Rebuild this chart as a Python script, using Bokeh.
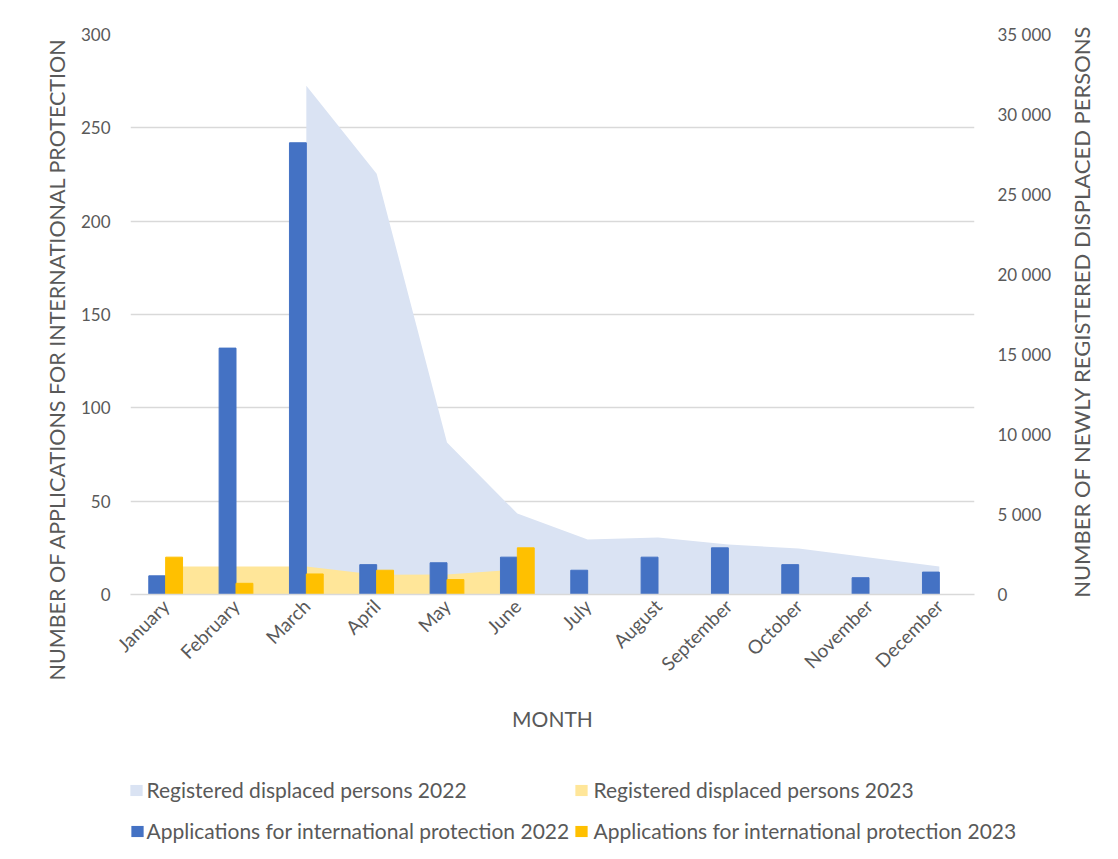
from math import pi
from bokeh.plotting import figure
from bokeh.models import (Range1d, LinearAxis, FactorRange, Title, Label,
                          CustomJSTickFormatter, SingleIntervalTicker, ColumnDataSource)
from bokeh.transform import dodge
from bokeh.embed import file_html
from bokeh.resources import INLINE

months = ["January", "February", "March", "April", "May", "June", "July",
          "August", "September", "October", "November", "December"]
apps_2022 = [10, 132, 242, 16, 17, 20, 13, 20, 25, 16, 9, 12]
months_2023 = months[:6]
apps_2023 = [20, 6, 11, 13, 8, 25]
reg_months_2022 = months[2:]
reg_2022 = [31800, 26300, 9500, 5060, 3440, 3560, 3120, 2870, 2310, 1750]
reg_months_2023 = months[:6]
reg_2023 = [1750, 1750, 1750, 1230, 1250, 1560]
legend_labels = ["Registered displaced persons 2022", "Registered displaced persons 2023",
                 "Applications for international protection 2022",
                 "Applications for international protection 2023"]

FONT = "Lato"
TXT = "#595959"
GRID = "#D9D9D9"
C_AREA22, C_AREA23, C_BAR22, C_BAR23 = "#DAE3F3", "#FFE699", "#4472C4", "#FFC000"
legend_colors = [C_AREA22, C_AREA23, C_BAR22, C_BAR23]

p = figure(x_range=FactorRange(*months), y_range=Range1d(0, 300),
           frame_width=844, frame_height=560, output_backend="svg", toolbar_location=None,
           min_border_left=130, min_border_right=144, min_border_top=34,
           min_border_bottom=265)
p.extra_y_ranges = {"right": Range1d(0, 35000)}
p.outline_line_color = None
p.background_fill_color = "white"
p.border_fill_color = "white"

src22 = ColumnDataSource(dict(x=reg_months_2022, y=reg_2022))
src23 = ColumnDataSource(dict(x=reg_months_2023, y=reg_2023))
p.varea(x="x", y1=0, y2="y", source=src22, y_range_name="right", fill_color=C_AREA22)
p.varea(x="x", y1=0, y2="y", source=src23, y_range_name="right", fill_color=C_AREA23)

b22src = ColumnDataSource(dict(x=months, y=apps_2022))
b23src = ColumnDataSource(dict(x=months_2023, y=apps_2023))
p.vbar(x=dodge("x", -0.12, range=p.x_range), top="y", width=0.24,
       source=b22src, fill_color=C_BAR22, line_color=C_BAR22)
p.vbar(x=dodge("x", 0.12, range=p.x_range), top="y", width=0.24,
       source=b23src, fill_color=C_BAR23, line_color=C_BAR23)

# left axis
yl = p.yaxis[0]
yl.ticker = SingleIntervalTicker(interval=50)
# right axis
yr = LinearAxis(y_range_name="right",
                ticker=SingleIntervalTicker(interval=5000),
                formatter=CustomJSTickFormatter(
                    code="return tick.toString().replace(/\\B(?=(\\d{3})+(?!\\d))/g, ' ');"))
p.add_layout(yr, "right")

for ax in (yl, yr):
    ax.axis_line_color = None
    ax.major_tick_line_color = None
    ax.minor_tick_line_color = None
    ax.major_tick_in = 0
    ax.major_tick_out = 0
    ax.minor_tick_in = 0
    ax.minor_tick_out = 0
    ax.major_label_text_font = FONT
    ax.major_label_text_font_size = "17px"
    ax.major_label_text_color = TXT
yl.major_label_standoff = 20
yr.major_label_standoff = 23

left_title = Title(text="NUMBER OF APPLICATIONS FOR INTERNATIONAL PROTECTION",
                   align="left", offset=-86, standoff=16,
                   text_font=FONT, text_font_size="21.5px", text_font_style="normal",
                   text_color=TXT)
p.add_layout(left_title, "left")

# annotations placed in the right side panel (each stacks after the previous one)
right_title = Label(x=27, y=283, x_units="screen", y_units="screen",
                    text="NUMBER OF NEWLY REGISTERED DISPLACED PERSONS",
                    angle=pi / 2, text_align="center", text_baseline="middle",
                    text_font=FONT, text_font_size="22px", text_color=TXT)
p.add_layout(right_title, "right")

# legend (2 x 2 grid); offsets compensate the side-panel stacking
swatch_x = [-945, -832, -1608, -1599]
text_x = [-947, -832, -1611, -1599]
row_text_y = [-195, -236]
row_swatch_y = [-196, -237]
for i, (lab, col) in enumerate(zip(legend_labels, legend_colors)):
    r = i // 2
    p.add_layout(Label(x=swatch_x[i], y=row_swatch_y[r], x_units="screen",
                       y_units="screen", text=" ", text_font_size="1px",
                       text_align="center", text_baseline="middle",
                       padding=(6, 5), background_fill_color=col), "right")
    p.add_layout(Label(x=text_x[i], y=row_text_y[r], x_units="screen",
                       y_units="screen", text=lab, text_align="left",
                       text_baseline="middle", text_font=FONT,
                       text_font_size="21px", text_color=TXT), "right")

xa = p.xaxis[0]
xa.axis_label = "MONTH"
xa.axis_line_color = GRID
xa.axis_line_width = 1.5
xa.major_tick_line_color = None
xa.major_tick_in = 0
xa.major_tick_out = 0
xa.major_label_orientation = pi / 4
xa.major_label_standoff = 8
xa.major_label_text_font = FONT
xa.major_label_text_font_size = "19px"
xa.major_label_text_color = TXT
xa.axis_label_text_font = FONT
xa.axis_label_text_font_size = "21px"
xa.axis_label_text_font_style = "normal"
xa.axis_label_text_color = TXT
xa.axis_label_standoff = 20

p.xgrid.grid_line_color = None
p.ygrid.grid_line_color = GRID
p.ygrid.grid_line_width = 1.5
p.ygrid.ticker = yl.ticker

open("out.html", "w").write(file_html(p, INLINE))
